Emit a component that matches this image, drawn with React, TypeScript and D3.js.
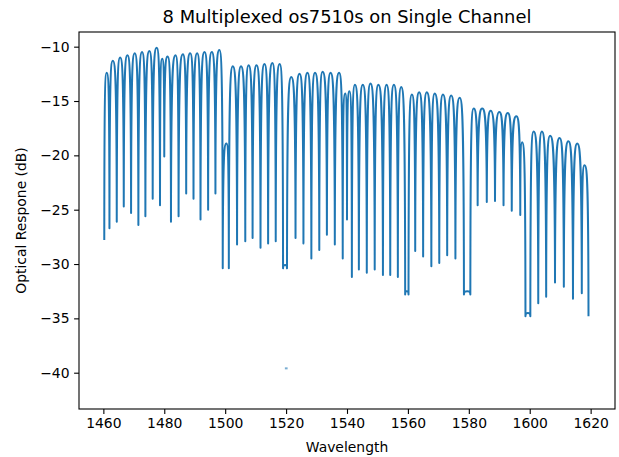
import React, { useRef, useEffect } from 'react';
import * as d3 from 'd3';

// [wavelength (nm), response (dB)], one array per sensor
const channel1 = [
  [1460.3, -27.8], [1461.1, -12.4], [1462.0, -26.7], [1463.1, -11.3], [1464.4, -26.1],
  [1465.5, -11.0], [1466.7, -24.7], [1467.9, -10.8], [1469.1, -25.3], [1470.3, -10.6],
  [1471.5, -26.4], [1472.7, -10.5], [1473.8, -25.6], [1475.1, -10.4], [1476.2, -24.0],
  [1477.5, -10.1], [1478.6, -24.6], [1479.3, -11.1], [1480.0, -20.1],
];
const channel2 = [
  [1481.1, -10.9], [1482.2, -26.1], [1483.7, -10.8], [1484.7, -25.6], [1486.1, -10.7],
  [1487.2, -23.5], [1488.5, -10.6], [1489.6, -24.0], [1490.8, -10.6], [1491.9, -25.9],
  [1493.2, -10.5], [1494.4, -25.0], [1495.6, -10.5], [1496.8, -23.5], [1498.1, -10.3],
  [1499.2, -30.4], [1500.4, -18.9], [1501.2, -30.4],
];
const channel3 = [
  [1502.5, -11.8], [1503.9, -28.2], [1505.2, -11.8], [1506.6, -27.9], [1507.7, -11.7],
  [1509.0, -27.6], [1510.3, -11.7], [1511.6, -28.5], [1512.9, -11.6], [1514.1, -28.1],
  [1515.5, -11.5], [1516.6, -27.9], [1517.9, -11.6], [1519.0, -30.4], [1519.7, -30.1],
  [1520.3, -30.4],
];
const channel4 = [
  [1521.7, -12.8], [1523.1, -27.6], [1524.4, -12.5], [1525.7, -28.1], [1527.0, -12.4],
  [1528.3, -29.5], [1529.5, -12.4], [1530.9, -28.7], [1532.0, -12.3], [1533.4, -27.3],
  [1534.6, -12.4], [1536.0, -28.2], [1537.4, -12.4], [1538.6, -29.5], [1539.4, -14.3],
  [1540.0, -25.9], [1540.8, -14.1], [1541.6, -31.2],
];
const channel5 = [
  [1542.6, -13.5], [1543.9, -30.5], [1545.2, -13.5], [1546.5, -30.8], [1547.7, -13.4],
  [1549.1, -30.5], [1550.3, -13.5], [1551.8, -31.0], [1553.0, -13.5], [1554.2, -31.0],
  [1555.4, -13.5], [1556.7, -31.2], [1557.8, -13.7], [1559.1, -32.8], [1559.6, -32.5],
  [1560.2, -32.8],
];
const channel6 = [
  [1561.3, -14.4], [1562.4, -28.8], [1563.7, -14.2], [1565.0, -29.3], [1566.2, -14.2],
  [1567.7, -30.2], [1568.8, -14.3], [1570.3, -29.9], [1571.5, -14.4], [1572.9, -29.2],
  [1574.2, -14.5], [1575.6, -29.5], [1577.0, -14.7], [1578.4, -32.8], [1579.5, -32.5],
  [1580.5, -32.8],
];
const channel7 = [
  [1581.6, -15.7], [1582.9, -24.6], [1584.4, -15.7], [1585.9, -24.3], [1587.2, -15.9],
  [1588.6, -24.2], [1590.0, -16.0], [1591.4, -24.6], [1592.8, -16.1], [1594.1, -25.1],
  [1595.6, -16.4], [1596.9, -25.5], [1597.5, -18.8], [1598.6, -34.8], [1599.4, -34.5],
  [1600.2, -34.8],
];
const channel8 = [
  [1601.3, -17.8], [1602.8, -33.6], [1604.0, -17.8], [1605.4, -33.0], [1606.7, -18.2],
  [1608.3, -31.7], [1609.8, -18.4], [1611.2, -32.1], [1612.7, -18.7], [1614.2, -33.2],
  [1615.6, -18.9], [1617.1, -32.7], [1618.0, -20.9], [1619.3, -34.8],
];
// short detached piece near the bottom
const strayTrace = [[1519.6, -39.6], [1520.5, -39.6]];

const xTicks = [1460, 1480, 1500, 1520, 1540, 1560, 1580, 1600, 1620];
const yTicks = [-10, -15, -20, -25, -30, -35, -40];
const xLimits = [1452, 1628];
const yLimits = [-43.34, -8.65];

// peaks are round arches, dips are narrow: keep the flat handle at the higher end
function curveFringe(context: any) {
  let px = NaN, py = NaN, n = 0;
  return {
    areaStart() {},
    areaEnd() {},
    lineStart() { n = 0; },
    lineEnd() {},
    point(x: number, y: number) {
      x = +x; y = +y;
      if (n === 0) context.moveTo(x, y);
      else {
        const dx = x - px;
        if (y > py) {
          context.bezierCurveTo(px + dx * 0.7, py, x - dx * 0.04, py + (y - py) * 0.14, x, y);
        } else {
          context.bezierCurveTo(px + dx * 0.04, y + (py - y) * 0.14, x - dx * 0.7, y, x, y);
        }
      }
      px = x; py = y; n++;
    },
  };
}

const App: React.FC = () => {
  const svgRef = useRef<SVGSVGElement>(null);

  useEffect(() => {
    if (!svgRef.current) return;
    const margin = { top: 32, left: 79 };
    const width = 536;
    const height = 377;

    const root = d3.select(svgRef.current);
    root.selectAll('*').remove();
    const svg = root.append('g').attr('transform', `translate(${margin.left},${margin.top})`);

    const xScale = d3.scaleLinear().domain(xLimits).range([0, width]);
    const yScale = d3.scaleLinear().domain(yLimits).range([height, 0]);

    const font = 'DejaVu Sans, sans-serif';

    const line = d3.line<number[]>()
      .x(d => xScale(d[0]))
      .y(d => yScale(d[1]))
      .curve(curveFringe as any);

    const trace = [...channel1, ...channel2, ...channel3, ...channel4,
      ...channel5, ...channel6, ...channel7, ...channel8];

    svg.append('path')
      .attr('d', line(trace))
      .attr('fill', 'none')
      .attr('stroke', '#1f77b4')
      .attr('stroke-width', 2)
      .attr('stroke-linejoin', 'round');

    svg.append('path')
      .attr('d', d3.line<number[]>().x(d => xScale(d[0])).y(d => yScale(d[1]))(strayTrace))
      .attr('fill', 'none')
      .attr('stroke', '#1f77b4')
      .attr('stroke-opacity', 0.6)
      .attr('stroke-width', 2);

    // axes
    const xAxis = svg.append('g')
      .attr('transform', `translate(0,${height})`)
      .call(d3.axisBottom(xScale).tickValues(xTicks).tickSize(4.9).tickPadding(4.6).tickFormat(d3.format('d')));
    const yAxis = svg.append('g')
      .call(d3.axisLeft(yScale).tickValues(yTicks).tickSize(4.9).tickPadding(4.6).tickFormat(d3.format('d')));

    [xAxis, yAxis].forEach(ax => {
      ax.select('.domain').remove();
      ax.selectAll('line').attr('stroke', '#000').attr('stroke-width', 1.1);
      ax.selectAll('text').attr('font-family', font).attr('font-size', 13.9).attr('fill', '#000');
    });

    svg.append('rect')
      .attr('x', 0).attr('y', 0)
      .attr('width', width).attr('height', height)
      .attr('fill', 'none')
      .attr('stroke', '#000')
      .attr('stroke-width', 1.1);

    // labels
    svg.append('text')
      .attr('x', width / 2).attr('y', -9)
      .attr('text-anchor', 'middle')
      .attr('font-family', font).attr('font-size', 17.9)
      .text('8 Multiplexed os7510s on Single Channel');

    svg.append('text')
      .attr('x', width / 2).attr('y', height + 43)
      .attr('text-anchor', 'middle')
      .attr('font-family', font).attr('font-size', 13.9)
      .text('Wavelength');

    svg.append('text')
      .attr('transform', `translate(${21 - margin.left},${height / 2}) rotate(-90)`)
      .attr('text-anchor', 'middle')
      .attr('dy', '0.35em')
      .attr('font-family', font).attr('font-size', 13.9)
      .text('Optical Respone (dB)');
  }, []);

  return (
    <svg
      ref={svgRef}
      width={619}
      height={457}
      style={{ position: 'absolute', left: 0, top: 0, background: '#fff' }}
    />
  );
};

export default App;
